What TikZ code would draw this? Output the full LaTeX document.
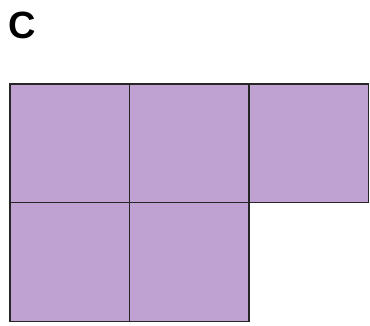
\documentclass[tikz,border=0pt]{standalone}
\usepackage{fontspec}
\setmainfont{Liberation Sans}
\definecolor{tilepurple}{RGB}{192,162,210}
\begin{document}
\begin{tikzpicture}[x=1pt, y=-1pt, font=\fontsize{38}{38}\selectfont\bfseries]
  \useasboundingbox (0,0) rectangle (370,325);
  \tikzset{tile/.style={draw=black!85, line width=1.3pt, fill=tilepurple}}
  \node[anchor=base west, inner sep=0pt] (label) at (8,38) {C};
  % top row
  \foreach \i in {0,1,2}
    \draw[tile] (10+119.5*\i,84) rectangle ++(119.5,118.5);
  % bottom row
  \foreach \i in {0,1}
    \draw[tile] (10+119.5*\i,202.5) rectangle ++(119.5,119);
\end{tikzpicture}
\end{document}
